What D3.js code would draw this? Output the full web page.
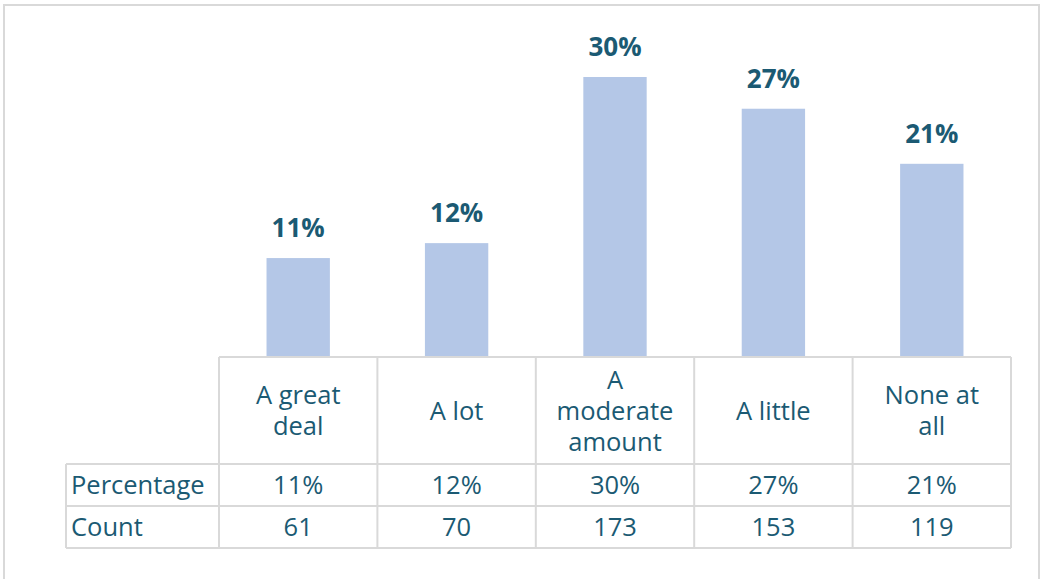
<!DOCTYPE html>
<html>
<head>
<meta charset="utf-8">
<script src="https://cdn.jsdelivr.net/npm/d3@7"></script>
<style>
  html, body { margin: 0; padding: 0; background: #fff; }
  svg { display: block; }
</style>
</head>
<body>
<script>
// Response categories, shares of respondents (%) and raw counts
const categories = ["A great deal", "A lot", "A moderate amount", "A little", "None at all"];
const categoryLines = [["A great", "deal"], ["A lot"], ["A", "moderate", "amount"], ["A little"], ["None at", "all"]];
const percentages = [10.6, 12.2, 30.0, 26.6, 20.7];
const counts = [61, 70, 173, 153, 119];
const rowLabels = ["Percentage", "Count"];

const W = 1042, H = 579;
const ink = "#1b5a73";
const grid = "#d9d9d9";
const barFill = "#b4c7e7";
const font = "'Open Sans', sans-serif";
const textSize = 25.5;

const svg = d3.select("body").append("svg").attr("width", W).attr("height", H);

// outer chart frame
svg.append("rect")
  .attr("x", 4).attr("y", 5).attr("width", 1035).attr("height", 600)
  .attr("fill", "none").attr("stroke", grid).attr("stroke-width", 2);

// layout of the data table under the plot
const tableLeft = 66, colStart = 219, colEnd = 1011;
const baseY = 357, headerBottom = 464, rowH = 42;

const x = d3.scaleBand().domain(categories).range([colStart, colEnd]).padding(0);
const y = d3.scaleLinear().domain([0, 30]).range([baseY, 77]);
const fmtPct = d => d3.format(".0f")(d) + "%";

// bars
const barW = x.bandwidth() * 0.4;
svg.append("g").selectAll("rect")
  .data(categories)
  .join("rect")
  .attr("x", (d) => x(d) + (x.bandwidth() - barW) / 2)
  .attr("y", (d, i) => y(percentages[i]))
  .attr("width", barW)
  .attr("height", (d, i) => baseY - y(percentages[i]))
  .attr("fill", barFill);

// value labels above bars
svg.append("g").selectAll("text")
  .data(categories)
  .join("text")
  .attr("x", d => x(d) + x.bandwidth() / 2)
  .attr("y", (d, i) => y(percentages[i]) - 21)
  .attr("text-anchor", "middle")
  .attr("font-family", font).attr("font-weight", "bold").attr("font-size", 26)
  .attr("fill", ink)
  .text((d, i) => fmtPct(percentages[i]));

// table grid
const g = svg.append("g").attr("stroke", grid).attr("stroke-width", 2).attr("fill", "none");
const tableBottom = headerBottom + 2 * rowH;
g.append("line").attr("x1", colStart).attr("x2", colEnd).attr("y1", baseY).attr("y2", baseY);
[headerBottom, headerBottom + rowH, tableBottom].forEach(yy => {
  g.append("line").attr("x1", tableLeft).attr("x2", colEnd).attr("y1", yy).attr("y2", yy);
});
categories.forEach(c => {
  g.append("line").attr("x1", x(c)).attr("x2", x(c)).attr("y1", baseY).attr("y2", tableBottom);
});
g.append("line").attr("x1", colEnd).attr("x2", colEnd).attr("y1", baseY).attr("y2", tableBottom);
g.append("line").attr("x1", tableLeft).attr("x2", tableLeft).attr("y1", headerBottom).attr("y2", tableBottom);

// category headers (wrapped)
const lineH = 31;
const headers = svg.append("g").selectAll("text")
  .data(categories)
  .join("text")
  .attr("text-anchor", "middle")
  .attr("font-family", font).attr("font-size", textSize)
  .attr("fill", ink);
headers.each(function (d, i) {
  const lines = categoryLines[i];
  const cy = (baseY + headerBottom) / 2;
  const y0 = cy - (lines.length - 1) * lineH / 2 + 9;
  d3.select(this).selectAll("tspan")
    .data(lines)
    .join("tspan")
    .attr("x", x(d) + x.bandwidth() / 2)
    .attr("y", (l, j) => y0 + j * lineH)
    .text(l => l);
});

// table rows
const rows = [percentages.map(fmtPct), counts.map(String)];
rows.forEach((vals, r) => {
  const ty = headerBottom + r * rowH + rowH / 2 + 9;
  svg.append("text")
    .attr("x", tableLeft + 5).attr("y", ty)
    .attr("font-family", font).attr("font-size", textSize).attr("fill", ink)
    .text(rowLabels[r]);
  svg.append("g").selectAll("text")
    .data(categories)
    .join("text")
    .attr("x", d => x(d) + x.bandwidth() / 2)
    .attr("y", ty)
    .attr("text-anchor", "middle")
    .attr("font-family", font).attr("font-size", textSize).attr("fill", ink)
    .text((d, i) => vals[i]);
});
</script>
</body>
</html>
